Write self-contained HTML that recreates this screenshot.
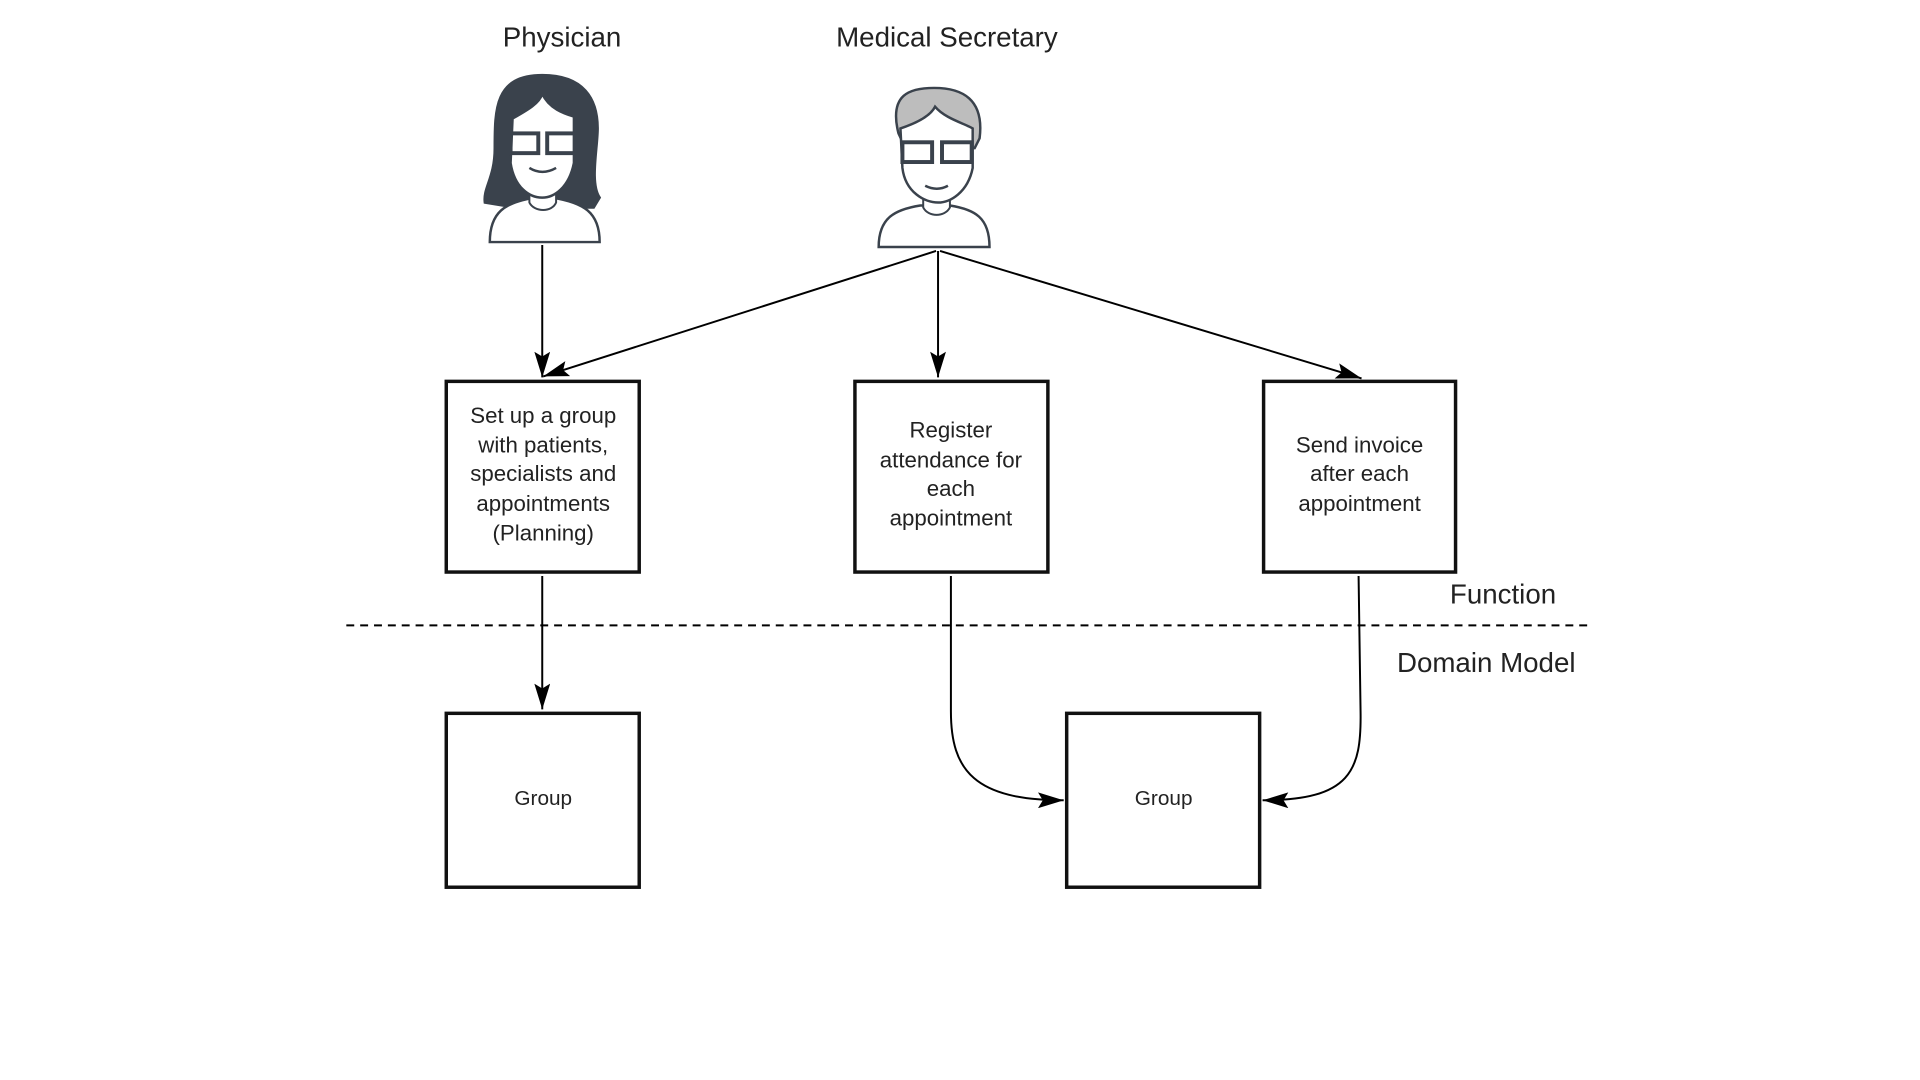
<!DOCTYPE html>
<html><head><meta charset="utf-8"><style>
html,body{margin:0;padding:0;background:#fff;}
svg{display:block;}
text{font-family:"Liberation Sans",sans-serif;fill:#222;}
</style></head><body>
<svg width="1920" height="1080" viewBox="0 0 1920 1080" xmlns="http://www.w3.org/2000/svg">
<defs>
<marker id="b" viewBox="0 0 16 10" refX="16" refY="5" markerWidth="26" markerHeight="16" markerUnits="userSpaceOnUse" orient="auto" preserveAspectRatio="none">
<path d="M0,0 L16,5 L0,10 L3,5 z" fill="#000"/></marker>
</defs>
<g transform="scale(0.9895,0.988)">
<text x="568" y="47" font-size="28" text-anchor="middle">Physician</text>
<text x="957" y="47" font-size="28" text-anchor="middle">Medical Secretary</text>

<!-- woman -->
<g stroke="#3a424c" stroke-width="2.5">
<path d="M548,76 C500,76 500,110 500,150 C500,180 488,190 490,205 L520,210 L600,210 L606,200 C596,185 604,150 604,130 C604,100 590,76 548,76 Z" fill="#3a424c"/>
<path d="M495,245 C495,215 510,205 540,200 L558,200 C590,205 606,215 606,245 Z" fill="#fff"/>
<path d="M535,195 L535,205 C540,215 558,215 562,205 L562,195 Z" fill="#fff" stroke-width="2"/>
<path d="M518,120 C532,112 545,105 548,95 C555,110 570,115 580,118 L580,165 C575,190 560,200 548,200 C535,200 520,190 516,165 Z" fill="#fff"/>
<rect x="516" y="135" width="28" height="20" fill="none" stroke-width="4"/>
<rect x="553" y="135" width="28" height="20" fill="none" stroke-width="4"/>
<path d="M535,170 Q548,178 562,170" fill="none"/>
</g>
<!-- man -->
<g stroke="#3a424c" stroke-width="2.5">
<path d="M888,250 C888,220 905,212 930,208 L960,208 C985,212 1000,220 1000,250 Z" fill="#fff"/>
<path d="M933,200 L933,210 C938,220 955,220 960,210 L960,200 Z" fill="#fff" stroke-width="2"/>
<path d="M908,135 C898,95 920,89 944,89 C972,89 995,100 990,140 L985,150 L915,150 Z" fill="#bdbdbd"/>
<path d="M910,130 C925,125 940,118 945,108 C955,120 975,125 983,130 L983,170 C978,195 960,205 948,205 C935,205 915,195 912,170 Z" fill="#fff"/>
<rect x="912" y="144" width="30" height="20" fill="none" stroke-width="4"/>
<rect x="952" y="144" width="30" height="20" fill="none" stroke-width="4"/>
<path d="M935,188 Q947,194 958,188" fill="none"/>
</g>

<g stroke="#000" stroke-width="2" fill="none">
<line x1="548" y1="248" x2="548" y2="382" marker-end="url(#b)"/>
<line x1="946" y1="254" x2="549" y2="381" marker-end="url(#b)"/>
<line x1="948" y1="254" x2="948" y2="382" marker-end="url(#b)"/>
<line x1="950" y1="254" x2="1376" y2="383" marker-end="url(#b)"/>
<line x1="548" y1="583" x2="548" y2="718" marker-end="url(#b)"/>
<path d="M961,583 L961,720 C961,780 985,810 1075,810" marker-end="url(#b)"/>
<path d="M1373,583 L1375,720 C1376,780 1365,810 1276,810" marker-end="url(#b)"/>
</g>

<g stroke="#111" stroke-width="3.5" fill="#fff">
<rect x="451" y="386" width="195" height="193"/>
<rect x="864" y="386" width="195" height="193"/>
<rect x="1277" y="386" width="194" height="193"/>
<rect x="451" y="722" width="195" height="176"/>
<rect x="1078" y="722" width="195" height="176"/>
</g>

<g font-size="22.5" text-anchor="middle">
<text x="549" y="428">Set up a group</text>
<text x="549" y="458">with patients,</text>
<text x="549" y="487">specialists and</text>
<text x="549" y="517">appointments</text>
<text x="549" y="547">(Planning)</text>
<text x="961" y="443">Register</text>
<text x="961" y="473">attendance for</text>
<text x="961" y="502">each</text>
<text x="961" y="532">appointment</text>
<text x="1374" y="458">Send invoice</text>
<text x="1374" y="487">after each</text>
<text x="1374" y="517">appointment</text>
</g>
<g font-size="21" text-anchor="middle">
<text x="549" y="815">Group</text>
<text x="1176" y="815">Group</text>
</g>

<line x1="350" y1="633" x2="1608" y2="633" stroke="#000" stroke-width="2" stroke-dasharray="8,6"/>
<text x="1519" y="611" font-size="28" text-anchor="middle">Function</text>
<text x="1502" y="680" font-size="28" text-anchor="middle">Domain Model</text>
</g>
</svg>
</body></html>
